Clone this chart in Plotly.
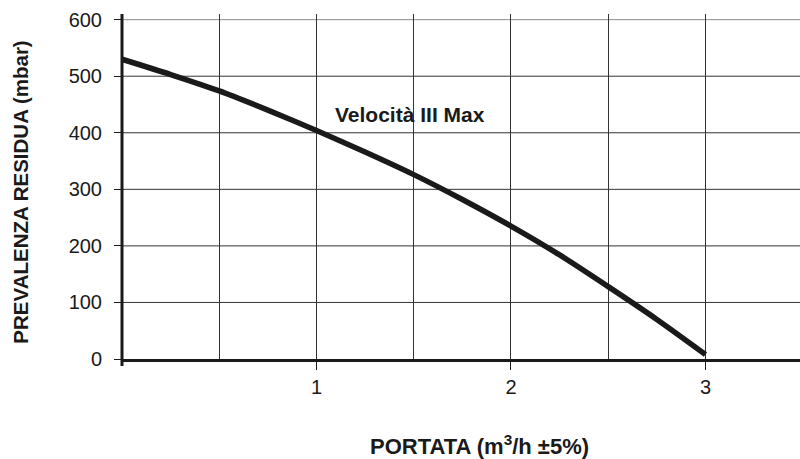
import plotly.graph_objects as go

flow = [0.0, 0.25, 0.5, 0.75, 1.0, 1.25, 1.5, 1.75, 2.0, 2.25, 2.5, 2.75, 3.0]
head = [530, 503, 474, 440, 404, 366, 326, 282, 235, 184, 128, 70, 8]
curve_label = "Velocità III Max"
x_ticks = [1, 2, 3]
y_ticks = [0, 100, 200, 300, 400, 500, 600]
y_grid_colors = ["#1a1a1a", "#333333", "#333333", "#333333", "#333333", "#333333", "#8a8a8a"]

font_family = "Liberation Sans, Arial, Helvetica, sans-serif"
ink = "#1a1a1a"

fig = go.Figure()
fig.add_trace(go.Scatter(
    x=flow, y=head, mode="lines", line=dict(color=ink, width=5.5, shape="spline", smoothing=0.8),
    showlegend=False, hoverinfo="skip", cliponaxis=False))

fig.add_annotation(x=1.48, y=433, text="<b>" + curve_label + "</b>", showarrow=False,
                   font=dict(size=21, color=ink, family=font_family))

fig.update_layout(
    width=800, height=459,
    margin=dict(l=122, r=0, t=14, b=100, autoexpand=False),
    paper_bgcolor="white", plot_bgcolor="white",
    font=dict(family=font_family, color=ink, size=20),
    xaxis=dict(
        range=[0, 3.486], tickvals=x_ticks, ticktext=[str(v) for v in x_ticks],
        ticks="outside", ticklen=8, tickwidth=1, tickcolor=ink, ticklabelstandoff=0,
        showgrid=True, gridcolor="#333333", gridwidth=1,
        minor=dict(dtick=0.5, tick0=0, showgrid=True, gridcolor="#333333", gridwidth=1, ticks=""),
        showline=True, linecolor=ink, linewidth=3,
        zeroline=False, tickfont=dict(size=20), automargin=False,
    ),
    yaxis=dict(
        range=[0, 610], tickvals=y_ticks,
        ticks="outside", ticklen=7, tickwidth=1, tickcolor=ink, ticklabelstandoff=8,
        showgrid=False, showline=False, zeroline=False, tickfont=dict(size=20), automargin=False,
    ),
)

# horizontal grid lines
for val, col in zip(y_ticks[1:], y_grid_colors[1:]):
    fig.add_shape(type="line", xref="paper", yref="y", x0=0, x1=1, y0=val, y1=val,
                  line=dict(color=col, width=1), layer="below")

# y-axis line (extends slightly beyond plot area, as in original)
fig.add_shape(type="line", xref="paper", yref="paper", x0=0, x1=0, y0=-0.02, y1=1.0,
              line=dict(color=ink, width=3))

fig.add_annotation(xref="paper", yref="paper", x=-0.149, y=0.485, xanchor="center", yanchor="middle",
                   text="<b>PREVALENZA RESIDUA (mbar)</b>", textangle=-90, showarrow=False,
                   font=dict(size=20.5, color=ink, family=font_family))
fig.add_annotation(xref="paper", yref="paper", x=0.528, y=-0.249, xanchor="center", yanchor="middle",
                   text="<b>PORTATA (m<sup>3</sup>/h ±5%)</b>", showarrow=False,
                   font=dict(size=22, color=ink, family=font_family))

fig.write_html("out.html", post_script="document.body.style.margin='0';",
               config={"displayModeBar": False})
